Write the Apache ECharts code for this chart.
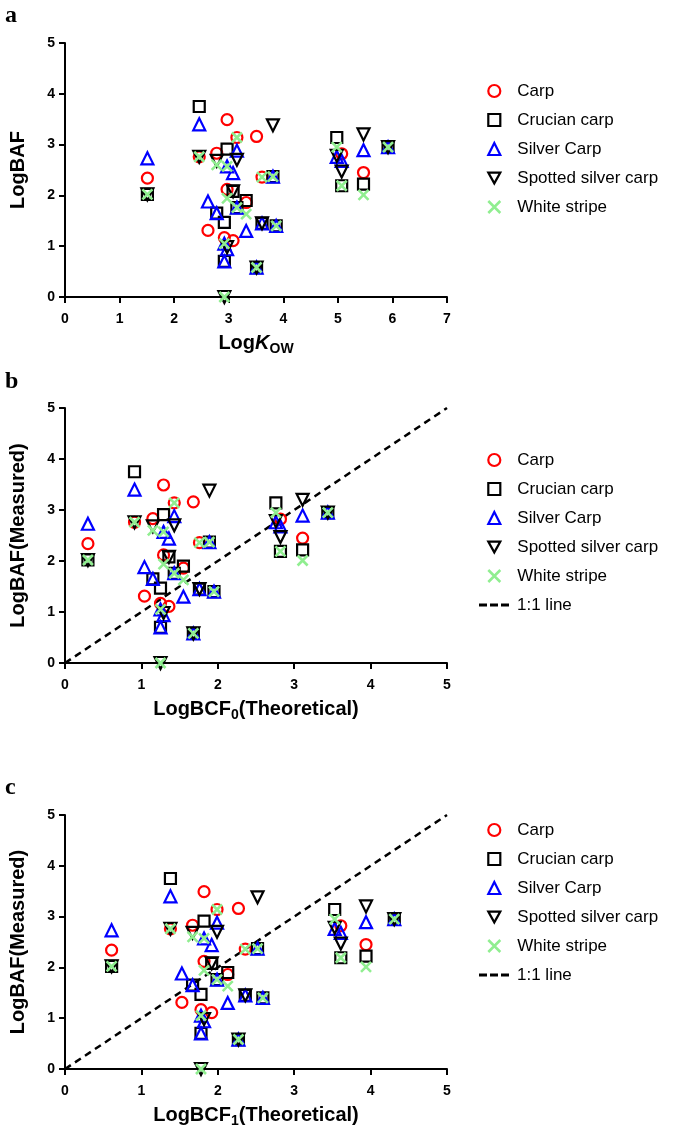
<!DOCTYPE html>
<html>
<head>
<meta charset="utf-8">
<script src="https://cdn.jsdelivr.net/npm/echarts@6/dist/echarts.min.js"></script>
<style>
html,body{margin:0;padding:0;background:#fff;}
#chart{width:685px;height:1143px;}
</style>
</head>
<body>
<div id="chart"></div>
<script>
// Compound columns: x positions in each panel (LogKow, LogBCF0, LogBCF1)
const kowCols  = [1.51, 2.46, 2.62, 2.78, 2.92, 2.97, 3.08, 3.15, 3.32, 3.51, 3.61, 3.81, 3.87, 4.98, 5.07, 5.47, 5.92];
const bcf0Cols = [0.30, 0.91, 1.04, 1.15, 1.25, 1.29, 1.36, 1.43, 1.55, 1.68, 1.76, 1.89, 1.95, 2.76, 2.82, 3.11, 3.44];
const bcf1Cols = [0.61, 1.38, 1.53, 1.67, 1.78, 1.82, 1.92, 1.99, 2.13, 2.27, 2.36, 2.52, 2.59, 3.53, 3.61, 3.94, 4.31];

// LogBAF per species: [column index, LogBAF]
const carpBAF = [[0,2.34],[1,2.76],[2,1.31],[3,2.83],[4,1.17],[5,3.49],[5,2.12],[6,1.11],[7,3.14],[8,1.86],[9,3.16],[10,2.36],[14,2.82],[15,2.45]];
const crucianBAF = [[0,2.02],[1,3.75],[3,1.65],[4,1.47],[4,0.70],[5,2.91],[6,2.08],[7,1.76],[8,1.90],[9,0.58],[10,1.45],[11,2.37],[12,1.40],[13,3.14],[14,2.19],[15,2.22],[16,2.95]];
const silverBAF = [[0,2.73],[1,3.40],[2,1.88],[3,1.65],[4,1.05],[4,0.70],[5,0.94],[5,2.57],[6,2.44],[7,2.88],[7,1.76],[8,1.30],[9,0.58],[10,1.45],[11,2.37],[12,1.40],[13,2.76],[14,2.68],[15,2.89],[16,2.95]];
const spottedBAF = [[0,2.02],[1,2.76],[3,2.68],[5,0.98],[4,0.00],[6,2.08],[7,2.70],[9,0.58],[10,1.45],[11,3.38],[13,2.78],[14,2.47],[15,3.20],[16,2.95]];
const whiteBAF = [[0,2.02],[1,2.76],[3,2.60],[4,1.05],[4,0.00],[5,1.94],[5,2.57],[7,3.14],[7,1.76],[8,1.63],[9,0.58],[10,2.36],[11,2.37],[12,1.40],[13,2.95],[14,2.19],[15,2.01],[16,2.95]];

const lineX = [0, 5];
const lineY = [0, 5];

const speciesNames = ['Carp', 'Crucian carp', 'Silver Carp', 'Spotted silver carp', 'White stripe'];
const lineName = '1:1 line';
const xMaxA = 7, xMaxBC = 5, yMax = 5;

const FONT = '"Liberation Sans", Arial, sans-serif';
const XPATH = 'path://M0,0L10,10M10,0L0,10';
const DTRI = 'path://M0,0L10,0L5,9Z';
const species = [
  {name: speciesNames[0], data: carpBAF, symbol: 'circle', icon: 'circle', size: 11, rot: 0, color: '#ff0000', bw: 2.2},
  {name: speciesNames[1], data: crucianBAF, symbol: 'rect', icon: 'rect', size: 11, rot: 0, color: '#000000', bw: 2.2},
  {name: speciesNames[2], data: silverBAF, symbol: 'triangle', icon: 'triangle', size: 12, rot: 0, color: '#0000ff', bw: 2.2},
  {name: speciesNames[3], data: spottedBAF, symbol: 'triangle', icon: DTRI, size: 12, rot: 180, color: '#000000', bw: 2.2},
  {name: speciesNames[4], data: whiteBAF, symbol: XPATH, icon: XPATH, size: 10, rot: 0, color: '#90ee90', bw: 2.6}
];

const grids = [
  {left: 63, top: 43, width: 384, height: 254},
  {left: 63, top: 408, width: 384, height: 255},
  {left: 63, top: 815, width: 384, height: 254}
];
const xCols = [kowCols, bcf0Cols, bcf1Cols];
const xMaxes = [xMaxA, xMaxBC, xMaxBC];
const xNames = ['Log{i|K}{s|OW}', 'LogBCF{s|0}(Theoretical)', 'LogBCF{s|1}(Theoretical)'];
const yNames = ['LogBAF', 'LogBAF(Measured)', 'LogBAF(Measured)'];
const legendTops = [76, 445, 815];
const ROW = 29;

const axisLine = {lineStyle: {color: '#000', width: 2}};
const axisTick = {length: 6, lineStyle: {color: '#000', width: 2}};
const labelStyle = {color: '#000', fontSize: 14, fontWeight: 'bold', fontFamily: FONT};
const nameStyle = {
  color: '#000', fontSize: 20, fontWeight: 'bold', fontFamily: FONT,
  rich: {
    i: {fontSize: 20, fontWeight: 'bold', fontStyle: 'italic', fontFamily: FONT, color: '#000'},
    s: {fontSize: 14, fontWeight: 'bold', fontFamily: FONT, color: '#000', padding: [12, 0, 0, 0]}
  }
};
const legendText = {color: '#000', fontSize: 17, fontFamily: FONT, lineHeight: 20};

const xAxis = [], yAxis = [], series = [], legend = [];
for (let g = 0; g < 3; g++) {
  xAxis.push({
    type: 'value', gridIndex: g, min: 0, max: xMaxes[g], interval: 1,
    axisLine: axisLine, axisTick: axisTick, splitLine: {show: false},
    axisLabel: Object.assign({margin: 15}, labelStyle),
    name: xNames[g], nameLocation: 'middle', nameGap: 33, nameTextStyle: nameStyle
  });
  yAxis.push({
    type: 'value', gridIndex: g, min: 0, max: yMax, interval: 1,
    axisLine: axisLine, axisTick: axisTick, splitLine: {show: false},
    axisLabel: Object.assign({margin: 10}, labelStyle),
    name: yNames[g], nameLocation: 'middle', nameGap: 37, nameTextStyle: nameStyle
  });
  const cols = xCols[g];
  if (g > 0) {
    series.push({
      name: lineName, type: 'line', xAxisIndex: g, yAxisIndex: g,
      data: lineX.map((x, i) => [x, lineY[i]]), symbol: 'none', silent: true,
      lineStyle: {color: '#000', width: 2.5, type: [7, 5]}, itemStyle: {color: '#000'},
      z: 1
    });
    legend.push({
      orient: 'vertical', left: 474, top: legendTops[g] + 5 * ROW,
      itemWidth: 30, itemHeight: 3, itemGap: 9, selectedMode: false,
      data: [{name: lineName, icon: 'path://M0,0h8v3h-8z M11,0h8v3h-8z M22,0h8v3h-8z', itemStyle: {color: '#000', borderWidth: 0}}],
      textStyle: Object.assign({padding: [0, 0, 0, 3]}, legendText)
    });
  }
  species.forEach((s, k) => {
    series.push({
      name: s.name, type: 'scatter', xAxisIndex: g, yAxisIndex: g,
      data: s.data.map(d => [cols[d[0]], d[1]]),
      symbol: s.symbol, symbolSize: s.size, symbolRotate: s.rot,
      itemStyle: {color: 'rgba(0,0,0,0)', borderColor: s.color, borderWidth: s.bw, opacity: 1},
      emphasis: {disabled: true}, silent: true, z: 2 + k
    });
  });
  legend.push({
    orient: 'vertical', left: 482, top: legendTops[g],
    itemWidth: 12, itemHeight: 12, itemGap: 9, selectedMode: false,
    data: species.map(s => ({name: s.name, icon: s.icon, itemStyle: {color: 'rgba(0,0,0,0)', borderColor: s.color, borderWidth: s.bw}})),
    textStyle: Object.assign({padding: [0, 0, 0, 12]}, legendText)
  });
}

const chart = echarts.init(document.getElementById('chart'), null, {renderer: 'canvas'});
chart.setOption({
  animation: false,
  backgroundColor: '#fff',
  grid: grids,
  xAxis: xAxis,
  yAxis: yAxis,
  legend: legend,
  series: series,
  graphic: [
    {type: 'text', left: 5, top: 4, style: {text: 'a', font: 'bold 24px "Liberation Serif", serif', fill: '#000'}},
    {type: 'text', left: 5, top: 370, style: {text: 'b', font: 'bold 24px "Liberation Serif", serif', fill: '#000'}},
    {type: 'text', left: 5, top: 776, style: {text: 'c', font: 'bold 24px "Liberation Serif", serif', fill: '#000'}}
  ]
});
</script>
</body>
</html>
